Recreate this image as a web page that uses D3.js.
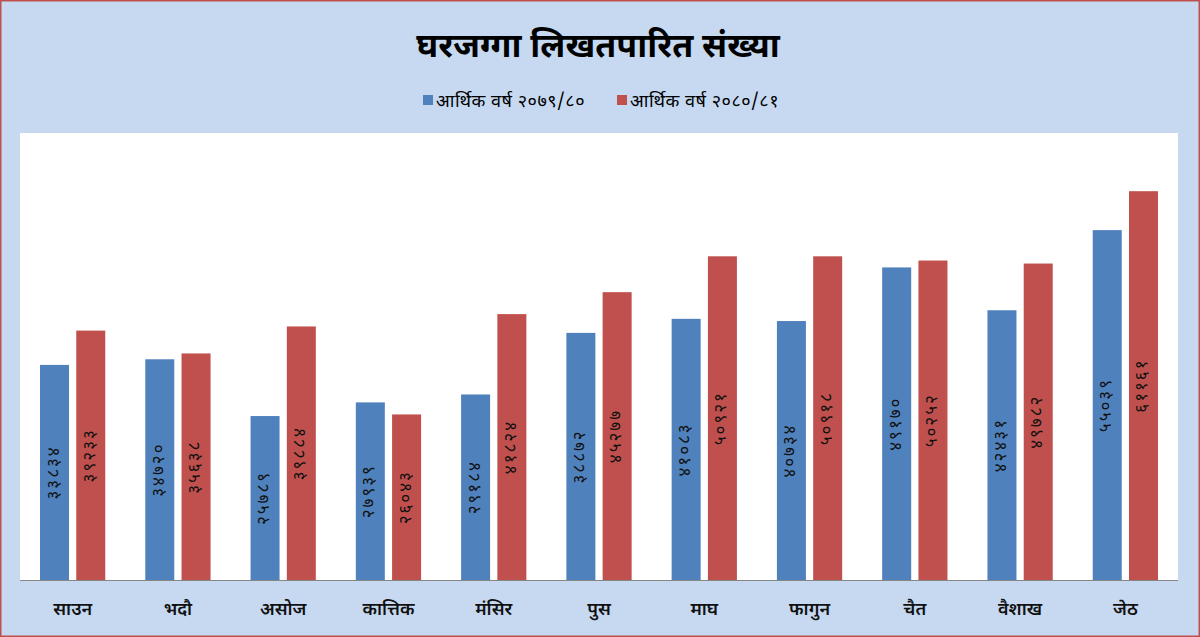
<!DOCTYPE html>
<html>
<head>
	<meta charset="utf-8">
	<title>घरजग्गा लिखतपारित संख्या</title>
	<script src="https://d3js.org/d3.v7.min.js"></script>
	<style type="text/css">
		body {
			margin: 0;
			background: #c6d9f1;
		}
		svg {
			display: block;
		}
		.title {
			font-size: 34px;
			font-weight: bold;
			fill: #000;
		}
		.legend text {
			font-size: 18px;
			fill: #000;
		}
		.axis text {
			font-size: 18px;
			font-weight: 600;
			fill: #111;
		}
		.label {
			font-size: 17px;
			fill: #111;
		}
	</style>
</head>
<body>
<div id="chart"></div>
<script>
	// months (x axis)
	var months = ["साउन", "भदौ", "असोज", "कात्तिक", "मंसिर", "पुस", "माघ", "फागुन", "चैत", "वैशाख", "जेठ"];
	var seriesNames = ["आर्थिक वर्ष २०७९/८०", "आर्थिक वर्ष २०८०/८१"];
	var fy7980 = [33834, 34720, 25789, 27939, 29184, 38872, 41083, 40734, 49170, 42431, 55039];
	var fy8081 = [39233, 35638, 39884, 26043, 41824, 45277, 50921, 50918, 50252, 49782, 61161];

	var W = 1200, H = 637;
	var plot = {left: 20, right: 1178, top: 133, bottom: 580};
	var colors = ["#4f81bd", "#c0504d"];
	var font = "'Noto Sans Devanagari', 'Lohit Devanagari', 'Mangal', 'FreeSans', sans-serif";

	// devanagari digits for the labels
	var nep = "०१२३४५६७८९";
	var toNep = function(n) {
		return String(n).replace(/[0-9]/g, function(c) { return nep[+c]; });
	};

	var svg = d3.select("#chart").append("svg")
		.attr("width", W)
		.attr("height", H)
		.style("font-family", font);

	svg.append("rect")
		.attr("x", 0.75).attr("y", 0.75)
		.attr("width", W - 1.5).attr("height", H - 1.5)
		.attr("fill", "#c6d9f1")
		.attr("stroke", "#c0504d")
		.attr("stroke-width", 1.5);

	svg.append("rect")
		.attr("x", plot.left).attr("y", plot.top)
		.attr("width", plot.right - plot.left)
		.attr("height", plot.bottom - plot.top)
		.attr("fill", "#fff");

	svg.append("text")
		.attr("class", "title")
		.attr("x", 598).attr("y", 57)
		.attr("text-anchor", "middle")
		.text("घरजग्गा लिखतपारित संख्या");

	// legend
	var legendX = [423, 617];
	var legend = svg.append("g").attr("class", "legend");
	seriesNames.forEach(function(name, i) {
		legend.append("rect")
			.attr("x", legendX[i]).attr("y", 95)
			.attr("width", 10).attr("height", 10)
			.attr("fill", colors[i]);
		legend.append("text")
			.attr("x", legendX[i] + 13).attr("y", 107)
			.style("letter-spacing", "0.5px")
			.text(name);
	});

	var x0 = d3.scaleBand()
		.domain(months)
		.range([plot.left, plot.right])
		.paddingInner(0.38)
		.paddingOuter(0.19);

	var x1 = d3.scaleBand()
		.domain([0, 1])
		.range([0, x0.bandwidth()])
		.paddingInner(0.2);

	var y = d3.scaleLinear()
		.domain([0, 70000])
		.range([plot.bottom, 135]);

	var rows = months.map(function(m, i) {
		return {month: m, values: [fy7980[i], fy8081[i]]};
	});

	var groups = svg.selectAll(".group")
		.data(rows)
		.enter().append("g")
		.attr("class", "group")
		.attr("transform", function(d) { return "translate(" + x0(d.month) + ",0)"; });

	var bars = groups.selectAll(".bar")
		.data(function(d) { return d.values.map(function(v, i) { return {s: i, v: v}; }); })
		.enter();

	bars.append("rect")
		.attr("x", function(d) { return x1(d.s); })
		.attr("y", function(d) { return y(d.v); })
		.attr("width", x1.bandwidth())
		.attr("height", function(d) { return y(0) - y(d.v); })
		.attr("fill", function(d) { return colors[d.s]; });

	bars.append("text")
		.attr("class", "label")
		.attr("text-anchor", "middle")
		.attr("dominant-baseline", "central")
		.attr("transform", function(d) {
			var cx = x1(d.s) + x1.bandwidth() / 2;
			var cy = (y(d.v) + y(0)) / 2;
			return "translate(" + cx + "," + cy + ") rotate(-90)";
		})
		.style("letter-spacing", "2px")
		.text(function(d) { return toNep(d.v); });

	// x axis
	var axis = svg.append("g")
		.attr("class", "axis")
		.attr("transform", "translate(0," + plot.bottom + ")")
		.call(d3.axisBottom(x0).tickSize(0).tickPadding(22));
	axis.select(".domain")
		.attr("stroke", "#868686")
		.attr("d", "M" + plot.left + ",0.5H" + plot.right);
	axis.selectAll("text").style("font-family", font);
</script>
</body>
</html>
